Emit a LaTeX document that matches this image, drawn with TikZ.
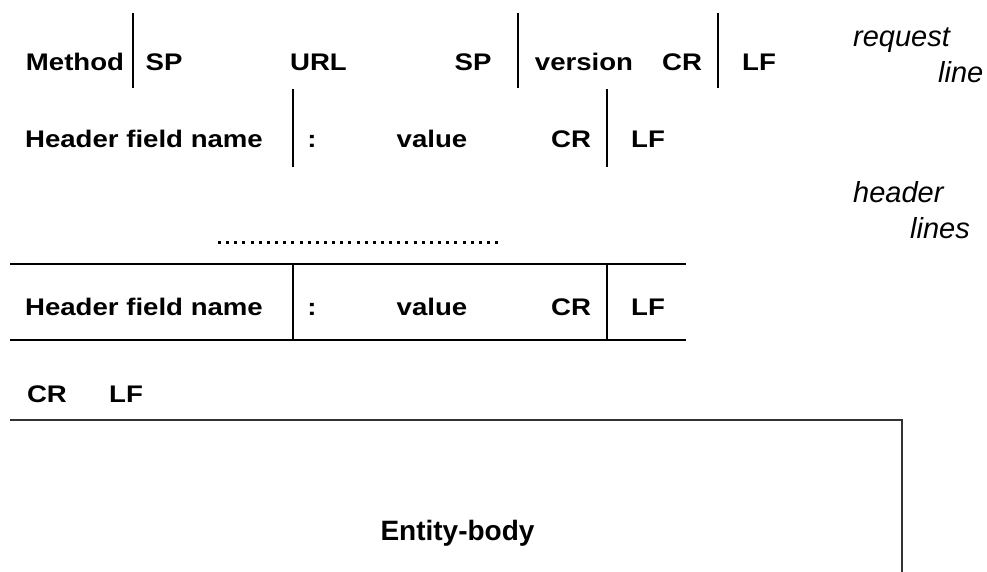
\documentclass[tikz,border=0pt]{standalone}
\usepackage{fontspec}
\usepackage{graphicx}
\setmainfont{Liberation Sans}
% field labels are set slightly wider than the natural font
\newcommand\widetext[1]{\scalebox{1.15}[1]{#1}}
\begin{document}
\begin{tikzpicture}[x=1pt,y=-1pt,
  fld/.style={inner sep=0pt, anchor=base, font=\fontsize{24}{28}\selectfont\bfseries},
  bodytext/.style={inner sep=0pt, anchor=base, font=\fontsize{28}{32}\selectfont\bfseries},
  tag/.style={inner sep=0pt, anchor=base west, font=\fontsize{29}{34}\selectfont\itshape},
  sep/.style={line width=1.8pt},
  rowline/.style={line width=1.8pt},
  boxline/.style={line width=2.2pt, draw=black!80},
  dotline/.style={line width=3pt, dash pattern=on 3pt off 5.15pt}]
\useasboundingbox (0,0) rectangle (987,571);

% request line
\node[fld] (method)  at (75,70)    {\widetext{Method}};
\node[fld] (sp1)     at (164,70)   {\widetext{SP}};
\node[fld] (url)     at (318.5,70) {\widetext{URL}};
\node[fld] (sp2)     at (473,70)   {\widetext{SP}};
\node[fld] (version) at (584,70)   {\widetext{version}};
\node[fld] (cr1)     at (682,70)   {\widetext{CR}};
\node[fld] (lf1)     at (759,70)   {\widetext{LF}};
\draw[sep] (133,13) -- (133,88);
\draw[sep] (518,13) -- (518,88);
\draw[sep] (718,13) -- (718,88);

% first header line
\node[fld] (hname1) at (144,147) {\widetext{Header field name}};
\node[fld] (colon1) at (312,147) {\widetext{:}};
\node[fld] (value1) at (432,147) {\widetext{value}};
\node[fld] (cr2)    at (571,147) {\widetext{CR}};
\node[fld] (lf2)    at (648,147) {\widetext{LF}};
\draw[sep] (293,89) -- (293,167);
\draw[sep] (607,89) -- (607,167);

% elided header lines
\draw[dotline] (218,242) -- (503,242);

% last header line
\draw[rowline] (10,264) -- (686,264);
\draw[rowline] (10,340) -- (686,340);
\draw[sep] (293,264) -- (293,340);
\draw[sep] (607,264) -- (607,340);
\node[fld] (hname2) at (144,315) {\widetext{Header field name}};
\node[fld] (colon2) at (312,315) {\widetext{:}};
\node[fld] (value2) at (432,315) {\widetext{value}};
\node[fld] (cr3)    at (571,315) {\widetext{CR}};
\node[fld] (lf3)    at (648,315) {\widetext{LF}};

% blank line
\node[fld] (cr4) at (47,402)  {\widetext{CR}};
\node[fld] (lf4) at (126,402) {\widetext{LF}};

% entity body
\draw[boxline] (10,420) -- (902,420) -- (902,580);
\node[bodytext] (body) at (457.5,540) {Entity-body};

% side labels
\node[tag] (req)   at (853,46)  {request};
\node[tag] (reql)  at (938,82)  {line};
\node[tag] (hdr)   at (853,202) {header};
\node[tag] (hdrl)  at (910,238) {lines};
\end{tikzpicture}
\end{document}
